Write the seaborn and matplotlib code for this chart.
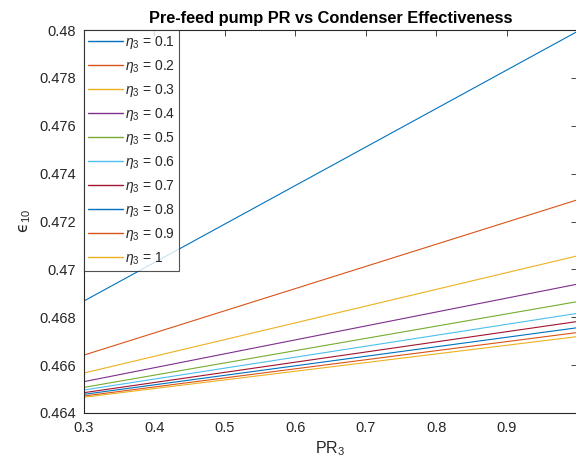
import numpy as np
import pandas as pd
import matplotlib
matplotlib.use("Agg")
import matplotlib.pyplot as plt
import seaborn as sns

# Data (straight lines: values at PR3 = 0.3 and 1.0)
pr3 = [0.3, 1.0]
eta_labels = ["0.1", "0.2", "0.3", "0.4", "0.5", "0.6", "0.7", "0.8", "0.9", "1"]
eps_eta01 = [0.46868, 0.47993]
eps_eta02 = [0.46642, 0.47290]
eps_eta03 = [0.46567, 0.47056]
eps_eta04 = [0.46531, 0.46938]
eps_eta05 = [0.46507, 0.46865]
eps_eta06 = [0.46496, 0.46816]
eps_eta07 = [0.46485, 0.46782]
eps_eta08 = [0.46478, 0.46756]
eps_eta09 = [0.46471, 0.46736]
eps_eta10 = [0.46466, 0.46719]
series = [eps_eta01, eps_eta02, eps_eta03, eps_eta04, eps_eta05,
          eps_eta06, eps_eta07, eps_eta08, eps_eta09, eps_eta10]
x_ticks = [0.3, 0.4, 0.5, 0.6, 0.7, 0.8, 0.9, 1.0]
x_tick_labels = ["0.3", "0.4", "0.5", "0.6", "0.7", "0.8", "0.9", ""]
y_ticks = [0.464, 0.466, 0.468, 0.47, 0.472, 0.474, 0.476, 0.478, 0.48]
y_tick_labels = ["0.464", "0.466", "0.468", "0.47", "0.472", "0.474",
                 "0.476", "0.478", "0.48"]

matlab = ["#0072BD", "#D95319", "#EDB120", "#7E2F8E", "#77AC30",
          "#4DBEEE", "#A2142F"]
palette = [matlab[i % 7] for i in range(10)]

rows = []
for lab, vals in zip(eta_labels, series):
    for x, y in zip(pr3, vals):
        rows.append({"PR3": x, "eps": y, "eta": r"$\eta_3$ = " + lab})
df = pd.DataFrame(rows)
hue_order = [r"$\eta_3$ = " + l for l in eta_labels]

sns.set_style("white")
plt.rcParams["font.family"] = ["Liberation Sans", "DejaVu Sans"]
plt.rcParams["mathtext.fontset"] = "custom"
plt.rcParams["mathtext.it"] = "Liberation Sans:italic"
plt.rcParams["mathtext.rm"] = "Liberation Sans"

fig = plt.figure(figsize=(5.76, 4.70), dpi=100)
ax = fig.add_axes([84 / 576, 1 - 413 / 470, 493 / 576, 383 / 470])

sns.lineplot(data=df, x="PR3", y="eps", hue="eta", hue_order=hue_order,
             palette=palette, linewidth=0.8, ax=ax, legend=True)

ax.set_xlim(0.3, 1.0)
ax.set_ylim(0.464, 0.48)
ax.set_xticks(x_ticks)
ax.set_xticklabels(x_tick_labels)
ax.set_yticks(y_ticks)
ax.set_yticklabels(y_tick_labels)
ax.tick_params(direction="in", length=4, width=0.6, colors="#262626",
               labelsize=10.5, top=True, right=True, pad=6)
for s in ax.spines.values():
    s.set_color("#262626")
    s.set_linewidth(0.8)

ax.set_xlabel(r"PR$_3$", fontsize=11.5, color="#262626", labelpad=3)
ax.set_ylabel("\u03f5$_{10}$", fontsize=11.5, color="#262626", labelpad=4,
              family=["DejaVu Sans"])
ax.set_title("Pre-feed pump PR vs Condenser Effectiveness", fontsize=11.8,
             fontweight="bold", color="black", pad=5)

leg = ax.legend(loc="upper left", fontsize=10, frameon=True, fancybox=False,
                edgecolor="#262626", handlelength=2.5, handletextpad=0.15,
                labelspacing=0.5, borderaxespad=0.0, borderpad=0.3,
                title=None)
leg.get_frame().set_linewidth(0.8)
for h, c in zip(leg.get_lines(), palette):
    h.set_color(c)
    h.set_linewidth(1.0)

fig.savefig("out.png", dpi=100)
